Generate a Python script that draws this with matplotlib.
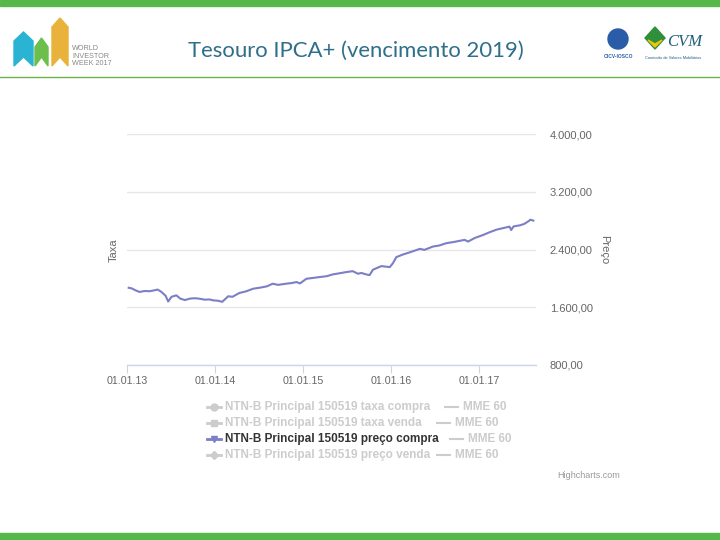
import matplotlib
matplotlib.use("Agg")
import matplotlib.pyplot as plt
import matplotlib.dates as mdates
from matplotlib.patches import Rectangle, Polygon, Circle
import numpy as np
import pandas as pd

# NTN-B Principal 150519 preço compra
dates = ["2013-01-08", "2013-01-20", "2013-02-05", "2013-02-22", "2013-03-15", "2013-04-05",
         "2013-04-25", "2013-05-08", "2013-05-23", "2013-06-10", "2013-06-21", "2013-07-05",
         "2013-07-25", "2013-08-10", "2013-08-29", "2013-09-20", "2013-10-10", "2013-10-30",
         "2013-11-20", "2013-12-10", "2013-12-24", "2014-01-15", "2014-01-31", "2014-02-15",
         "2014-02-25", "2014-03-15", "2014-04-12", "2014-05-10", "2014-06-09", "2014-07-05",
         "2014-08-04", "2014-08-29", "2014-09-20", "2014-10-23", "2014-11-15", "2014-12-06",
         "2014-12-20", "2015-01-16", "2015-02-10", "2015-03-11", "2015-04-10", "2015-05-05",
         "2015-06-01", "2015-06-30", "2015-07-27", "2015-08-18", "2015-09-01", "2015-09-21",
         "2015-10-05", "2015-10-19", "2015-11-23", "2015-12-28", "2016-01-10", "2016-01-24",
         "2016-02-20", "2016-03-22", "2016-05-01", "2016-05-20", "2016-06-24", "2016-07-20",
         "2016-08-18", "2016-09-20", "2016-10-20", "2016-11-03", "2016-11-17", "2016-12-15",
         "2017-01-19", "2017-02-15", "2017-03-15", "2017-04-10", "2017-05-08", "2017-05-15",
         "2017-05-25", "2017-06-20", "2017-07-08", "2017-07-25", "2017-08-03", "2017-08-15"]
preco_compra = [1870, 1862, 1835, 1812, 1825, 1822,
                1835, 1845, 1815, 1760, 1680, 1745,
                1765, 1720, 1700, 1720, 1725, 1718,
                1705, 1708, 1696, 1690, 1675, 1720,
                1752, 1745, 1797, 1820, 1857, 1870,
                1889, 1926, 1910, 1926, 1935, 1949,
                1930, 1995, 2005, 2018, 2030, 2055,
                2070, 2087, 2100, 2064, 2075, 2055,
                2045, 2120, 2170, 2156, 2210, 2294,
                2330, 2363, 2409, 2395, 2441, 2455,
                2487, 2505, 2525, 2533, 2510, 2560,
                2602, 2640, 2675, 2695, 2717, 2670,
                2720, 2735, 2754, 2790, 2813, 2800]

x_ticks = ["2013-01-01", "2014-01-01", "2015-01-01", "2016-01-01", "2017-01-01"]
y_ticks = [800, 1600, 2400, 3200, 4000]

legend_labels = ["NTN-B Principal 150519 taxa compra",
                 "NTN-B Principal 150519 taxa venda",
                 "NTN-B Principal 150519 preço compra",
                 "NTN-B Principal 150519 preço venda"]
legend_markers = ["o", "s", "v", "D"]
legend_active = [False, False, True, False]

W, H = 720, 540
line_color = "#7b7fc6"
font = ["Liberation Sans", "DejaVu Sans"]

fig = plt.figure(figsize=(7.2, 5.4), dpi=100)
fig.patch.set_facecolor("white")

# main chart
left, right, top, bottom = 127, 536, 134, 365
ax = fig.add_axes([left / W, 1 - bottom / H, (right - left) / W, (bottom - top) / H])
ax.plot(pd.to_datetime(dates), preco_compra, color=line_color, lw=1.5)
ax.set_xlim(pd.Timestamp("2013-01-01"), pd.Timestamp("2017-08-26"))
ax.set_ylim(800, 4000)
for s in ["top", "left", "right"]:
    ax.spines[s].set_visible(False)
ax.spines["bottom"].set_color("#ccd6eb")
ax.spines["bottom"].set_linewidth(1)
ax.set_yticks(y_ticks)
ax.yaxis.tick_right()
ax.yaxis.grid(True, color="#e6e6e6", lw=1)
ax.tick_params(axis="y", length=0, pad=10, labelsize=8, labelcolor="#666666")
ax.set_yticklabels([f"{v:,.2f}".replace(",", "X").replace(".", ",").replace("X", ".") for v in y_ticks],
                   family=font, ha="left")
ax.set_xticks(pd.to_datetime(x_ticks))
ax.xaxis.set_major_formatter(mdates.DateFormatter("%d.%m.%y"))
ax.tick_params(axis="x", length=6, color="#ccd6eb", labelsize=7.7, labelcolor="#666666", pad=2)
for lab in ax.get_xticklabels():
    lab.set_family(font)
ax.set_axisbelow(True)

fig.text(114 / W, 1 - 250 / H, "Taxa", rotation=90, ha="center", va="center",
         fontsize=8, color="#666666", family=font)
fig.text(604 / W, 1 - 250 / H, "Preço", rotation=-90, ha="center", va="center",
         fontsize=8, color="#666666", family=font)

# overlay in pixel coordinates for header, legend, footer
ov = fig.add_axes([0, 0, 1, 1], zorder=-1)
ov.set_xlim(0, W)
ov.set_ylim(H, 0)
ov.axis("off")

green = "#55b848"
ov.add_patch(Rectangle((0, 0), W, 6, color=green))
ov.add_patch(Rectangle((0, 533), W, 7, color=green))
ov.plot([0, W], [76.5, 76.5], color="#6ab04c", lw=1)

ov.text(356, 51, "Tesouro IPCA+ (vencimento 2019)", ha="center", va="center",
        fontsize=15.9, color="#2e6f8a", family=["Lato", "DejaVu Sans"])

# left logo (pencils)
for x0, w, ytop, c in [(14, 19, 32, "#2bb3d4"), (35, 13, 38, "#6cbf4a"), (52, 16, 18, "#e9b23a")]:
    ov.add_patch(Polygon([(x0, 66), (x0, ytop + 9), (x0 + w / 2, ytop), (x0 + w, ytop + 9), (x0 + w, 66),
                          (x0 + w / 2, 57)], closed=True, color=c))
ov.text(72, 56, "WORLD\nINVESTOR\nWEEK 2017", ha="left", va="center", fontsize=5.2,
        color="#888888", family=font, linespacing=1.1)

# right logos
ov.add_patch(Circle((618, 39), 10, color="#2a5ca8"))
ov.text(618, 56, "OICV-IOSCO", ha="center", va="center", fontsize=3.5, color="#2a5ca8",
        family=font, weight="bold")
ov.add_patch(Polygon([(655, 27), (665, 38), (655, 49), (645, 38)], closed=True, color="#2f8f3a"))
ov.add_patch(Polygon([(648, 40), (655, 47), (662, 40), (655, 44)], closed=True, color="#f1c40f"))
ov.text(667, 42, "CVM", ha="left", va="center", fontsize=12, color="#1d5f7a",
        family="Liberation Serif", style="italic")
ov.text(645, 58, "Comissão de Valores Mobiliários", ha="left", va="center", fontsize=2.8,
        color="#1d5f7a", family=font)

# legend
legend_y = [407, 423, 439, 455]
mme_x = [445, 437, 450, 437]
for y, lab, m, act, mx in zip(legend_y, legend_labels, legend_markers, legend_active, mme_x):
    c = line_color if act else "#cccccc"
    tc = "#333333" if act else "#cccccc"
    ov.plot([207, 221], [y, y], color=c, lw=2)
    ov.plot([214], [y], marker=m, color=c, ms=5 if m != "D" else 4, mec=c)
    ov.text(225, y, lab, ha="left", va="center", fontsize=8.45, color=tc,
            family=font, weight="bold")
    ov.plot([mx, mx + 13], [y, y], color="#cccccc", lw=1.5)
    ov.text(mx + 18, y, "MME 60", ha="left", va="center", fontsize=8.45, color="#cccccc",
            family=font, weight="bold")

ov.text(557, 475, "Highcharts.com", ha="left", va="center", fontsize=6.5, color="#999999", family=font)

fig.savefig("out.png", dpi=100)
